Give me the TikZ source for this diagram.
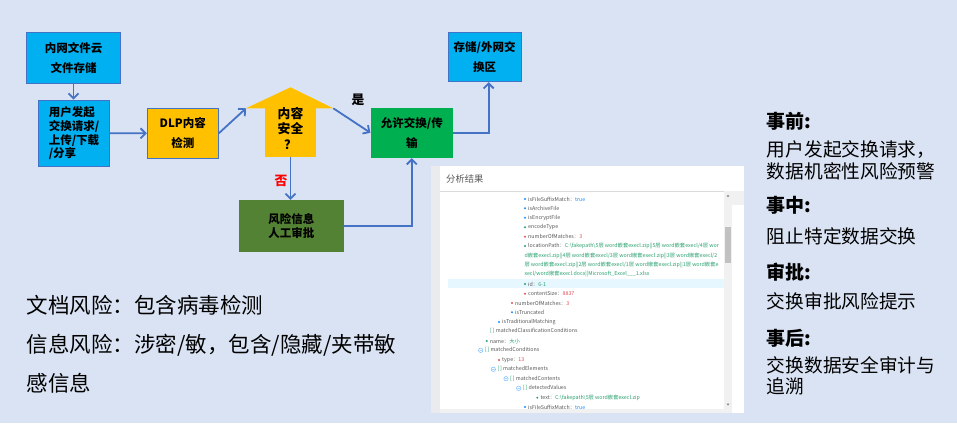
\documentclass[tikz,border=0pt]{standalone}
\usepackage{fontspec}
\setmainfont{Noto Sans CJK SC}
\usetikzlibrary{arrows.meta,positioning}
\definecolor{pagebg}{RGB}{218,227,243}
\definecolor{flowblue}{RGB}{68,114,196}
\definecolor{skycyan}{RGB}{0,176,240}
\definecolor{amber}{RGB}{255,192,0}
\definecolor{passgreen}{RGB}{0,176,80}
\definecolor{riskolive}{RGB}{84,130,53}
\definecolor{keygray}{RGB}{89,89,89}
\definecolor{valblue}{RGB}{24,144,255}
\definecolor{valred}{RGB}{226,80,84}
\definecolor{valgreen}{RGB}{40,160,110}
\definecolor{stripgray}{RGB}{233,235,239}
\definecolor{scrollgray}{RGB}{241,241,241}
\definecolor{thumbgray}{RGB}{193,193,193}
\definecolor{rowhl}{RGB}{230,247,255}
\newcommand{\boxfont}{\bfseries\fontsize{11.5}{20}\selectfont}
\newcommand{\treefont}{\fontsize{5.3}{6}\selectfont}

\begin{document}
\begin{tikzpicture}[x=1pt,y=-1pt,
    box/.style={rectangle, draw=flowblue, line width=1pt, align=center,
                inner sep=0pt, font=\boxfont},
    flow/.style={draw=flowblue, line width=1.8pt,
                 -{Straight Barb[length=5pt,width=10pt]}},
    note/.style={anchor=west, inner sep=0pt, align=left},
    tree/.style={anchor=west, inner sep=0pt, font=\treefont, text=keygray}
]
\useasboundingbox[fill=pagebg] (0,0) rectangle (957,423);

% flow chart
\node[box, fill=skycyan, minimum width=93.6pt, minimum height=51pt] (cloud) at (73.5,57.8) {内网文件云\\文件存储};
\node[box, fill=skycyan, minimum width=71.4pt, minimum height=66.3pt, align=left,
      font=\bfseries\fontsize{11.5}{13.9}\selectfont] (request) at (74,133.2) {用户发起\\交换请求/\\上传/下载\\/分享};
\node[box, fill=amber, minimum width=71pt, minimum height=50pt] (dlp) at (182.8,133.3) {DLP内容\\检测};

\coordinate (chkL) at (246,108.3);
\coordinate (chkT) at (290.5,87.3);
\coordinate (chkR) at (333.3,108.3);
\fill[amber] (chkL) -- (chkT) -- (chkR) -- cycle;
\node[fill=amber, inner sep=0pt, minimum width=51pt, minimum height=48.4pt] (check) at (290.5,132.5) {};
\node[align=center, inner sep=0pt, font=\bfseries\fontsize{12.8}{15.5}\selectfont] (checktxt) at (290.5,128.5) {内容\\安全\\？};

\node[box, draw=none, fill=passgreen, minimum width=81.7pt, minimum height=49.7pt] (allow) at (411.8,132.8) {允许交换/传\\输};
\node[box, fill=skycyan, minimum width=72.7pt, minimum height=49.4pt,
      font=\bfseries\fontsize{11.5}{20.7}\selectfont] (store) at (484.7,57) {存储/外网交\\换区};
\node[box, draw=none, fill=riskolive, minimum width=104.7pt, minimum height=51.7pt,
      font=\bfseries\fontsize{11.5}{14.3}\selectfont] (risk) at (291.4,226.3) {风险信息\\人工审批};

\node[inner sep=0pt, font=\bfseries\fontsize{12.8}{14}\selectfont] (yes) at (358,100) {是};
\node[inner sep=0pt, text=red, font=\bfseries\fontsize{12.8}{14}\selectfont] (no) at (281,181) {否};

\draw[flow] (cloud.south) -- (cloud.south |- request.north);
\draw[flow] (request.east) -- (dlp.west);
\draw[flow] (dlp.east) -- (chkL);
\draw[flow] (chkR) -- (allow.west);
\draw[flow] (check.south) -- (check.south |- risk.north);
\draw[flow] (risk.east) -| (allow.south);
\draw[flow] (allow.east) -| ([xshift=4pt]store.south);

% risk notes
\node[note, font=\fontsize{21.5}{39}\selectfont] (riskinfo) at (26.7,344)
  {文档风险：包含病毒检测\\信息风险：涉密/敏，包含/隐藏/夹带敏\\感信息};

% stage notes
\tikzset{stagehead/.style={note, font=\bfseries\fontsize{19}{22}\selectfont},
         stagetext/.style={note, font=\fontsize{18.7}{21.7}\selectfont}}
\node[stagehead] (before) at (766.7,121.7) {事前:};
\node[stagetext] (beforetxt) at (766.7,160.2) {用户发起交换请求，\\数据机密性风险预警};
\node[stagehead] (during) at (766.7,205) {事中:};
\node[stagetext] (duringtxt) at (766.7,236.7) {阻止特定数据交换};
\node[stagehead] (approve) at (766.7,271.7) {审批:};
\node[stagetext] (approvetxt) at (766.7,301.7) {交换审批风险提示};
\node[stagehead] (after) at (766.7,338.3) {事后:};
\node[stagetext] (aftertxt) at (766.7,375.8) {交换数据安全审计与\\追溯};

% result panel
\fill[white] (440,166) rectangle (744.3,412.7);
\fill[stripgray] (431,166) rectangle (440,412.7);
\node[note, font=\fontsize{9.3}{10}\selectfont, text=keygray] (paneltitle) at (446,179.3) {分析结果};
\draw[scrollgray!80!gray, line width=0.5pt] (440,191) -- (744.3,191);
\fill[scrollgray] (724.3,191.3) rectangle (731.7,412.7);
\fill[thumbgray] (725.3,226.7) rectangle (730.7,263.3);
\fill[scrollgray] (731.7,191.3) rectangle (744.3,205);
\fill[scrollgray] (440,409.3) rectangle (724.3,412.7);
\fill[gray] (726.6,196.6) -- (729.4,196.6) -- (728,194.6) -- cycle;
\fill[gray] (726.6,403.6) -- (729.4,403.6) -- (728,405.6) -- cycle;
\fill[rowhl] (448,279) rectangle (724.3,288.3);

\foreach \y/\x/\c/\t [count=\i] in {
    199/525/valblue/{isFileSuffixMatch：\textcolor{valblue}{true}},
    208.3/525/valblue/{isArchiveFile},
    217.7/525/valblue/{isEncryptFile},
    227.3/525/valgreen/{encodeType},
    236.7/525/valred/{numberOfMatches：\textcolor{valred}{3}},
    246/525/valgreen/{locationPath：\textcolor{valgreen}{C:\textbackslash fakepath\textbackslash 5层 word嵌套execl.zip||5层 word嵌套execl/4层 wor}},
    284/525/valgreen/{id：\textcolor{valgreen}{6-1}},
    293.7/525/valred/{contentSize：\textcolor{valred}{8837}},
    303/512/valred/{numberOfMatches：\textcolor{valred}{3}},
    312.3/512/valblue/{isTruncated},
    322/499/valblue/{isTraditionalMatching},
    341/486.7/valgreen/{name：\textcolor{valgreen}{大小}},
    360/499/valred/{type：\textcolor{valred}{13}},
    397.7/537.3/valgreen/{text：\textcolor{valgreen}{C:\textbackslash fakepath\textbackslash 5层 word嵌套execl.zip}},
    407/525/valblue/{isFileSuffixMatch：\textcolor{valblue}{true}}}{
  \fill[\c] (\x,\y) circle (1.1pt);
  \node[tree] (row\i) at (\x+3,\y) {\t};
}
\foreach \y/\x/\t [count=\i] in {
    255.7/524.3/{\textcolor{valgreen}{d嵌套execl.zip||4层 word嵌套execl/3层 word嵌套execl.zip||3层 word嵌套execl/2}},
    265/524.3/{\textcolor{valgreen}{层 word嵌套execl.zip||2层 word嵌套execl/1层 word嵌套execl.zip||1层 word嵌套e}},
    274.3/524.3/{\textcolor{valgreen}{xecl/word嵌套execl.docx||Microsoft\_Excel\_\_\_1.xlsx}},
    331.3/490/{\textcolor{valgreen}{[\,]} matchedClassificationConditions}}{
  \node[tree] (wrap\i) at (\x,\y) {\t};
}
\foreach \y/\x/\t [count=\i] in {
    350.3/480.7/matchedConditions,
    369.3/493.3/matchedElements,
    378.7/506/matchedContents,
    388.3/518.7/detectedValues}{
  \draw[valblue!60, line width=0.5pt] (\x,\y) circle (2.2pt) (\x-1.2,\y) -- (\x+1.2,\y);
  \node[tree] (fold\i) at (\x+4,\y) {\textcolor{valgreen}{[\,]} \t};
}
\end{tikzpicture}
\end{document}
